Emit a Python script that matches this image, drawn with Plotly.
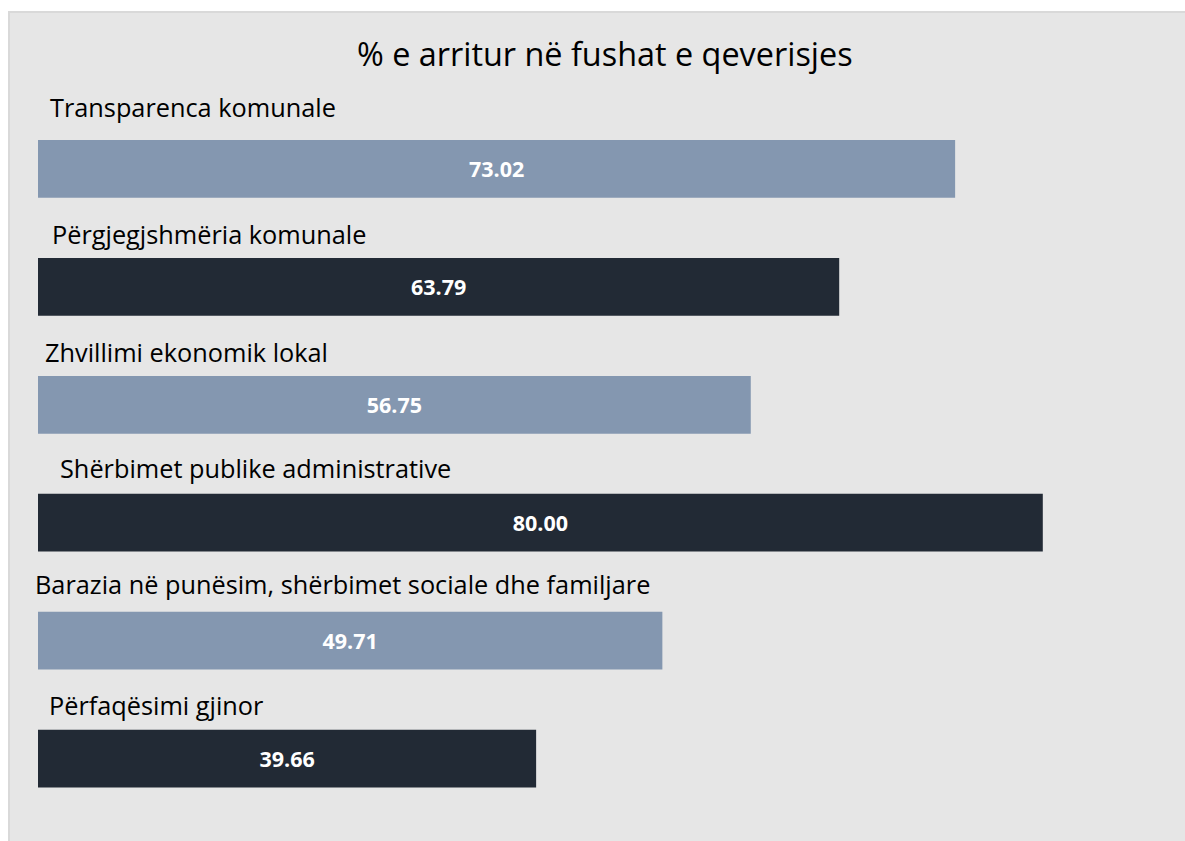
import plotly.graph_objects as go

categories = [
    "Transparenca komunale",
    "Përgjegjshmëria komunale",
    "Zhvillimi ekonomik lokal",
    "Shërbimet publike administrative",
    "Barazia në punësim, shërbimet sociale dhe familjare",
    "Përfaqësimi gjinor",
]
values = [73.02, 63.79, 56.75, 80.00, 49.71, 39.66]
title_text = "% e arritur në fushat e qeverisjes"

# styling
W, H = 1185, 841
light = "#8497B0"
dark = "#222A35"
bar_colors = [light, dark, light, dark, light, dark]
label_x_px = [48, 50, 43, 58, 33, 47]           # left edge of category labels (px)
label_shift_px = [62, 53, 53, 55, 57, 54]       # label centre above bar centre (px)
font_family = "Open Sans, Noto Sans, sans-serif"

fig = go.Figure()
fig.add_trace(go.Bar(
    x=values,
    y=categories,
    orientation="h",
    marker=dict(color=bar_colors, line=dict(width=0)),
    texttemplate="<b>%{x:.2f}</b>",
    textposition="inside",
    insidetextanchor="middle",
    textfont=dict(color="white", size=21.5, family=font_family),
    hoverinfo="skip",
    width=0.49,
))

x0_px = 38
px_per_unit = 12.56
x_range_max = (W - x0_px) / px_per_unit

annotations = []
for cat, lx, ls in zip(categories, label_x_px, label_shift_px):
    annotations.append(dict(
        text=cat, x=lx / W, xref="paper", xanchor="left",
        y=cat, yref="y", yanchor="middle", yshift=ls,
        showarrow=False,
        font=dict(size=25.3, color="#000000", family=font_family),
    ))
annotations.append(dict(
    text=title_text, x=604.5 / W, xref="paper", xanchor="center",
    y=1 - 53.5 / H, yref="paper", yanchor="middle",
    showarrow=False,
    font=dict(size=32.4, color="#000000", family=font_family),
))

n = len(categories)
fig.update_layout(
    width=W, height=H,
    margin=dict(l=0, r=0, t=0, b=0),
    paper_bgcolor="white",
    plot_bgcolor="rgba(0,0,0,0)",
    showlegend=False,
    xaxis=dict(domain=[x0_px / W, 1], range=[0, x_range_max],
               showgrid=False, zeroline=False, showticklabels=False,
               showline=False, fixedrange=True),
    yaxis=dict(domain=[1 - 817.5 / H, 1 - 110 / H], range=[n - 0.5, -0.5],
               showgrid=False, zeroline=False, showticklabels=False,
               showline=False, fixedrange=True),
    annotations=annotations,
    shapes=[dict(type="rect", xref="paper", yref="paper",
                 x0=9 / W, x1=1.05, y0=-0.05, y1=1 - 12 / H,
                 fillcolor="#e6e6e6", line=dict(color="#d9d9d9", width=2),
                 layer="below")],
)

fig.write_html(
    "out.html",
    config={"displayModeBar": False},
    post_script="document.body.style.margin='0';document.body.style.overflow='hidden';",
)
